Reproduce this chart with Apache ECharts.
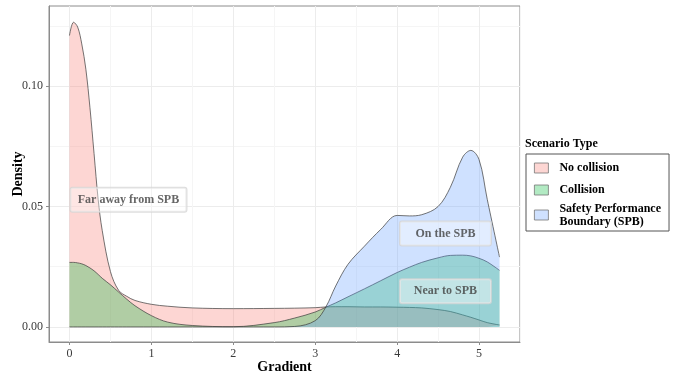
<!DOCTYPE html>
<html lang="en">
<head>
    <meta charset="UTF-8">
    <title>Gradient density by scenario type</title>
    <style>
        html, body {
            margin: 0;
            padding: 0;
            background: #fff;
        }
        #chart-box {
            width: 678px;
            height: 377px;
        }
    </style>
</head>
<body>
<div id="chart-box"></div>
<script src="https://cdn.jsdelivr.net/npm/echarts@6/dist/echarts.min.js"></script>
<script>
    // data
    var gradient = [0, 0.05, 0.1, 0.15, 0.2, 0.25, 0.3, 0.35, 0.4, 0.5, 0.6, 0.7, 0.8, 1.0, 1.2, 1.5, 2.0, 2.5,
        2.75, 3.0, 3.13, 3.25, 3.4, 3.6, 3.8, 4.0, 4.15, 4.3, 4.5, 4.65, 4.8, 4.9, 5.0, 5.1, 5.25];
    var noCollision = [0.121, 0.1265, 0.1245, 0.1175, 0.107, 0.091, 0.072, 0.053, 0.040, 0.023, 0.0152, 0.0127,
        0.0110, 0.0094, 0.0086, 0.0079, 0.0076, 0.0077, 0.0078, 0.0080, 0.0083, 0.0084, 0.0084, 0.0083, 0.0083,
        0.0082, 0.0081, 0.0079, 0.0072, 0.0064, 0.0050, 0.0040, 0.0029, 0.0018, 0.0008];
    var collision = [0.0268, 0.0268, 0.0266, 0.0262, 0.0255, 0.0245, 0.0233, 0.0218, 0.0202, 0.0175, 0.0145,
        0.0115, 0.0088, 0.0047, 0.0020, 0.0006, 0.0001, 0.0018, 0.0037, 0.0062, 0.0082, 0.0100, 0.0125, 0.0158,
        0.0192, 0.0226, 0.0248, 0.0268, 0.0287, 0.0297, 0.0298, 0.0295, 0.0285, 0.0270, 0.0235];
    var spb = [0, 0, 0, 0, 0, 0, 0, 0, 0, 0, 0, 0, 0, 0, 0, 0, 0, 0,
        0.0002, 0.0026, 0.0083, 0.0170, 0.0260, 0.0335, 0.0405, 0.0463, 0.0461, 0.0466, 0.0500, 0.0580,
        0.0705, 0.0733, 0.0695, 0.0530, 0.0290];

    var seriesNames = ['No collision', 'Collision', 'Safety Performance\nBoundary (SPB)'];
    var xTicks = [0, 1, 2, 3, 4, 5];
    var yTicks = [0, 0.05, 0.10];

    var annoText = ['Far away from SPB', 'On the SPB', 'Near to SPB'];
    var annoX = [0.72, 4.59, 4.59];
    var annoY = [0.0528, 0.0388, 0.0148];

    var X_MIN = -0.25, X_MAX = 5.5;
    var Y_MIN = -0.00625, Y_MAX = 0.13325;

    var FONT = 'Liberation Serif';
    var fills = ['rgba(248,118,109,0.3)', 'rgba(0,186,56,0.3)', 'rgba(97,156,255,0.3)'];
    var major = '#ececec', minor = '#f5f5f5', none = 'rgba(0,0,0,0)';

    function pairs(ys) {
        return gradient.map(function (x, i) { return [x, ys[i]]; });
    }

    function densitySeries(name, ys, k) {
        return {
            name: name,
            type: 'line',
            xAxisIndex: 0,
            yAxisIndex: 0,
            data: pairs(ys),
            smooth: 0.35,
            symbol: 'none',
            itemStyle: {color: fills[k]},
            lineStyle: {color: '#3a3a3a', width: 0.7},
            areaStyle: {color: fills[k], opacity: 1},
            z: 2 + k
        };
    }

    var myChart = echarts.init(document.getElementById('chart-box'), null, {renderer: 'canvas'});

    var option = {
        animation: false,
        backgroundColor: '#ffffff',
        title: {
            text: 'Scenario Type',
            left: 525,
            top: 138,
            padding: 0,
            textStyle: {fontFamily: FONT, fontWeight: 'bold', fontSize: 12, color: '#000'}
        },
        legend: {
            orient: 'vertical',
            left: 526,
            top: 154,
            padding: [4, 8, 3, 8],
            itemWidth: 14,
            itemHeight: 10,
            itemGap: 2,
            borderColor: '#555',
            borderWidth: 1,
            borderRadius: 0,
            selectedMode: false,
            textStyle: {
                fontFamily: FONT, fontWeight: 'bold', fontSize: 12, color: '#000',
                padding: [0, 0, 0, 6]
            },
            data: seriesNames.map(function (n, k) {
                return {
                    name: n,
                    icon: 'rect',
                    itemStyle: {color: fills[k], borderColor: '#777', borderWidth: 0.8},
                    textStyle: {lineHeight: k < 2 ? 20 : 13}
                };
            })
        },
        grid: {
            left: 49,
            top: 6,
            right: 158,
            bottom: 35,
            show: true,
            borderColor: '#8c8c8c',
            borderWidth: 1,
            backgroundColor: '#fff',
            outerBoundsMode: 'none'
        },
        xAxis: [{
            type: 'value',
            min: X_MIN,
            max: X_MAX,
            position: 'bottom',
            name: 'Gradient',
            nameLocation: 'middle',
            nameGap: 18,
            nameMoveOverlap: false,
            nameTextStyle: {fontFamily: FONT, fontWeight: 'bold', fontSize: 14, color: '#000'},
            axisLine: {show: true, onZero: false, lineStyle: {color: '#8c8c8c', width: 1}},
            axisTick: {show: true, length: 3, customValues: xTicks, lineStyle: {color: '#8c8c8c'}},
            axisLabel: {
                customValues: xTicks,
                margin: 6,
                fontFamily: FONT, fontSize: 12, color: '#3a3a3a'
            },
            splitLine: {show: false}
        }, {
            // only carries the grid lines (major every 1, minor every 0.5)
            type: 'value',
            min: X_MIN,
            max: X_MAX,
            interval: 0.25,
            position: 'top',
            axisLine: {show: false},
            axisTick: {show: false},
            axisLabel: {show: false},
            splitLine: {show: true, lineStyle: {color: [none, major, none, minor], width: 1}}
        }],
        yAxis: [{
            type: 'value',
            min: Y_MIN,
            max: Y_MAX,
            position: 'left',
            name: 'Density',
            nameLocation: 'middle',
            nameGap: 24,
            nameMoveOverlap: false,
            nameTextStyle: {fontFamily: FONT, fontWeight: 'bold', fontSize: 14, color: '#000'},
            axisLine: {show: true, onZero: false, lineStyle: {color: '#8c8c8c', width: 1}},
            axisTick: {show: true, length: 3, customValues: yTicks, lineStyle: {color: '#8c8c8c'}},
            axisLabel: {
                customValues: yTicks,
                margin: 6,
                fontFamily: FONT, fontSize: 12, color: '#3a3a3a',
                formatter: function (v) { return v.toFixed(2); }
            },
            splitLine: {show: false}
        }, {
            type: 'value',
            min: Y_MIN,
            max: Y_MAX,
            interval: 0.00625,
            position: 'right',
            axisLine: {show: false},
            axisTick: {show: false},
            axisLabel: {show: false},
            splitLine: {show: true, lineStyle: {color: [none, major, none, none, none, minor, none, none], width: 1}}
        }],
        series: [
            densitySeries(seriesNames[0], noCollision, 0),
            densitySeries(seriesNames[1], collision, 1),
            densitySeries(seriesNames[2], spb, 2),
            {
                name: 'labels',
                type: 'scatter',
                xAxisIndex: 0,
                yAxisIndex: 0,
                symbolSize: 1,
                itemStyle: {color: 'rgba(0,0,0,0)'},
                z: 10,
                data: annoText.map(function (t, i) {
                    return {
                        name: t,
                        value: [annoX[i], annoY[i]],
                        label: {width: i === 0 ? 104 : 79}
                    };
                }),
                label: {
                    show: true,
                    position: 'inside',
                    formatter: '{b}',
                    align: 'center',
                    fontFamily: FONT,
                    fontWeight: 'bold',
                    fontSize: 12,
                    lineHeight: 14,
                    color: '#404040',
                    backgroundColor: 'rgba(255,255,255,0.5)',
                    borderColor: '#d4d4d4',
                    borderWidth: 1,
                    borderRadius: 2,
                    padding: [5, 6]
                }
            }
        ]
    };

    myChart.setOption(option);
</script>
</body>
</html>
